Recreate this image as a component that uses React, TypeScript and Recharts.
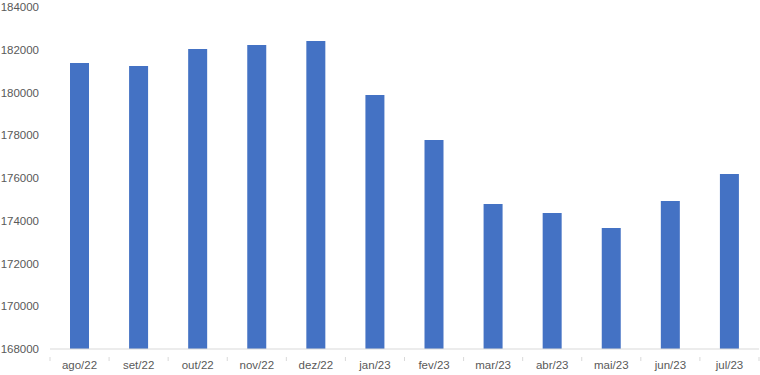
import React from 'react';
import { BarChart, Bar, XAxis, YAxis } from 'recharts';

const months = ["ago/22", "set/22", "out/22", "nov/22", "dez/22", "jan/23", "fev/23", "mar/23", "abr/23", "mai/23", "jun/23", "jul/23"];
const values = [181380, 181240, 182040, 182220, 182410, 179880, 177780, 174780, 174360, 173660, 174920, 176190];
const yTicks = [168000, 170000, 172000, 174000, 176000, 178000, 180000, 182000, 184000];

const W = 760;
const H = 375;
const Y_AXIS_W = 50;
const RIGHT = 1;
const STEP = (W - Y_AXIS_W - RIGHT) / months.length;

const MonthTick = (props: any) => {
  const { x, y, payload, index } = props;
  const half = STEP / 2;
  return (
    <g>
      <line x1={x - half} y1={y} x2={x - half} y2={y + 4} stroke="#d9d9d9" />
      {index === months.length - 1 && (
        <line x1={x + half} y1={y} x2={x + half} y2={y + 4} stroke="#d9d9d9" />
      )}
      <text x={x} y={y + 12} textAnchor="middle" fill="#595959" fontSize={11.5} fontFamily="Liberation Sans, Arial, sans-serif">
        {payload.value}
      </text>
    </g>
  );
};

export default function App() {
  const data = months.map((m, i) => ({ month: m, value: values[i] }));
  return (
    <div style={{ position: 'absolute', left: 0, top: 0, width: W, height: H, background: '#fff' }}>
      <BarChart width={W} height={H} data={data} margin={{ top: 7, right: RIGHT, bottom: 6, left: 0 }}>
        <XAxis
          dataKey="month"
          tick={<MonthTick />}
          tickLine={false}
          axisLine={{ stroke: '#d9d9d9' }}
          height={20}
          interval={0}
        />
        <YAxis
          domain={[168000, 184000]}
          ticks={yTicks}
          width={Y_AXIS_W}
          axisLine={false}
          tickLine={false}
          tickSize={0}
          tickMargin={11}
          allowDataOverflow
          tick={{ fill: '#595959', fontSize: 11.5, fontFamily: 'Liberation Sans, Arial, sans-serif' }}
        />
        <Bar dataKey="value" fill="#4472c4" barSize={19} isAnimationActive={false} />
      </BarChart>
    </div>
  );
}
